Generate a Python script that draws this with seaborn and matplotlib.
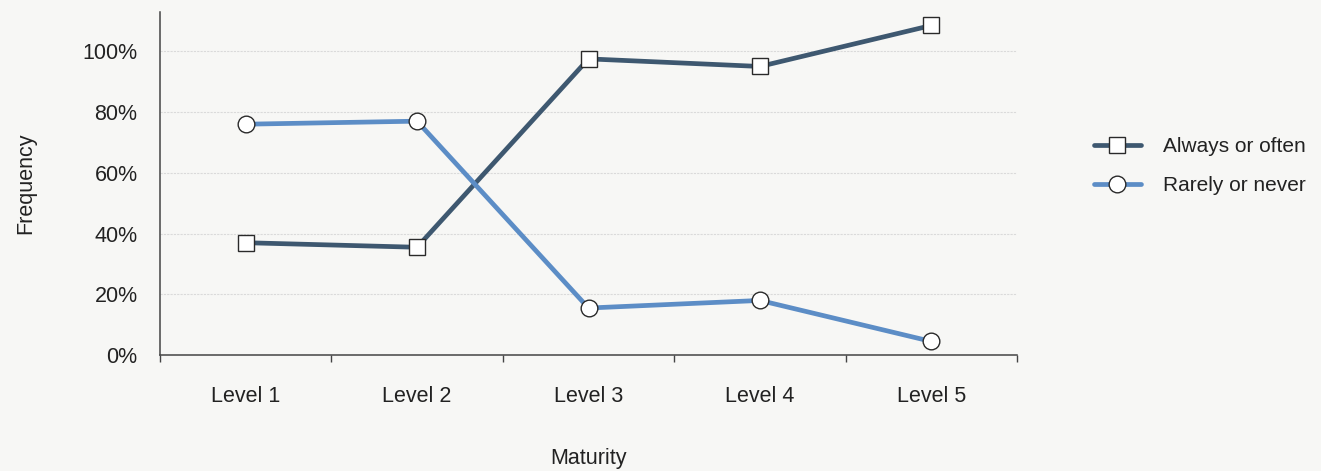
import matplotlib
matplotlib.use("Agg")
import matplotlib.pyplot as plt
import seaborn as sns
import pandas as pd
from matplotlib.ticker import FixedLocator, FuncFormatter

levels = ["Level 1", "Level 2", "Level 3", "Level 4", "Level 5"]
always_often = [37, 35.5, 97.5, 95, 108.5]
rarely_never = [76, 77, 15.5, 18, 4.5]
series_names = ["Always or often", "Rarely or never"]
y_ticks = [0, 20, 40, 60, 80, 100]

sns.set_theme(style="white")
plt.rcParams["font.family"] = ["Liberation Sans", "DejaVu Sans"]

bg = "#f7f7f5"
fig = plt.figure(figsize=(13.21, 4.71), dpi=100, facecolor=bg)
ax = fig.add_axes([0.121, 0.246, 0.649, 0.729])
ax.set_facecolor(bg)

df = pd.DataFrame({"Maturity": list(range(len(levels))) * 2,
                   "Frequency": always_often + rarely_never,
                   "Series": [series_names[0]] * len(levels) + [series_names[1]] * len(levels)})

colors = {series_names[0]: "#3e5870", series_names[1]: "#5c8dc6"}
markers = {series_names[0]: "s", series_names[1]: "o"}
for name in series_names:
    sub = df[df["Series"] == name]
    sns.lineplot(data=sub, x="Maturity", y="Frequency", ax=ax, color=colors[name],
                 linewidth=3.4, marker=markers[name], markersize=12,
                 markerfacecolor="white", markeredgecolor="#2a2a2a",
                 markeredgewidth=1.0, label=name, legend=False)

fs = 15.5
ax.set_xlim(-0.5, len(levels) - 0.5)
ax.set_ylim(0, 113)
ax.yaxis.set_major_locator(FixedLocator(y_ticks))
ax.yaxis.set_major_formatter(FuncFormatter(lambda v, p: f"{int(v)}%"))
ax.set_yticks([0], minor=True)
ax.set_xticks(range(len(levels)))
ax.set_xticklabels(levels)
ax.set_xticks([i - 0.5 for i in range(len(levels) + 1)], minor=True)
ax.tick_params(axis="x", which="major", length=0, pad=22, labelsize=fs, colors="#222")
ax.tick_params(axis="x", which="minor", length=5, width=1, color="#444", direction="out", bottom=True)
ax.tick_params(axis="y", which="major", length=0, pad=16, labelsize=fs, colors="#222")
ax.tick_params(axis="y", which="minor", length=7, width=1.1, color="#444", direction="out", left=True)

ax.grid(axis="y", which="major", color="#dadada", linewidth=0.8, linestyle=(0, (2, 1)))
ax.set_axisbelow(True)
for s in ["top", "right"]:
    ax.spines[s].set_visible(False)
for s in ["left", "bottom"]:
    ax.spines[s].set_color("#444")
    ax.spines[s].set_linewidth(1.1)

ax.set_xlabel("Maturity", fontsize=fs, color="#222", labelpad=30)
ax.set_ylabel("Frequency", fontsize=fs, color="#222", labelpad=33)

handles, labels = ax.get_legend_handles_labels()
fig.legend(handles, labels, loc="center left", bbox_to_anchor=(0.8155, 0.647),
           frameon=False, fontsize=15, handlelength=2.25, handletextpad=1.05,
           labelspacing=0.95, labelcolor="#222", borderpad=0.3)

fig.savefig("out.png", dpi=100, facecolor=bg)
